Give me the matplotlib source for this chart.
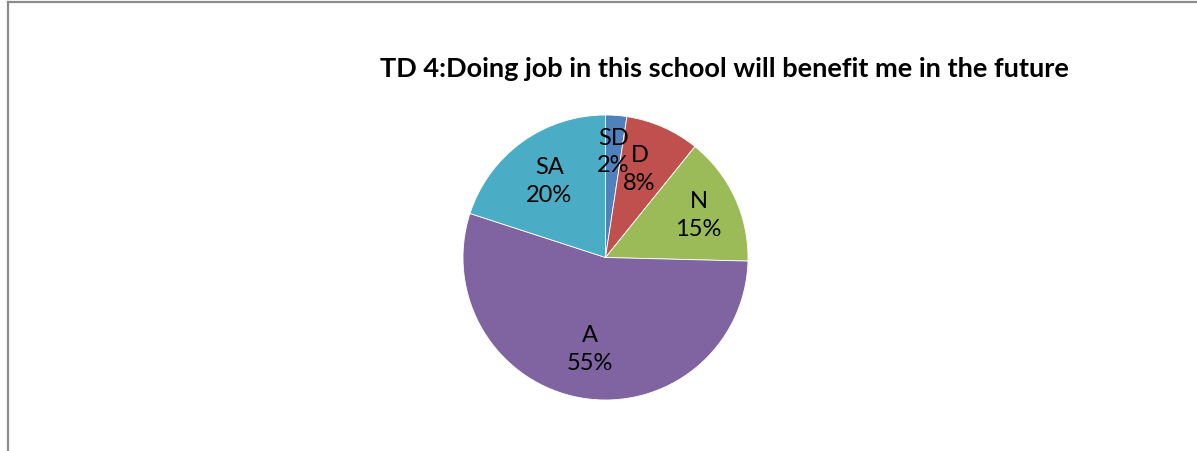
import numpy as np
import matplotlib
matplotlib.use("Agg")
import matplotlib.pyplot as plt
from matplotlib.lines import Line2D

title = "TD 4:Doing job in this school will benefit me in the future"
categories = ["SD", "D", "N", "A", "SA"]
values = [2.4, 8.4, 14.6, 54.6, 20.0]
pct_labels = ["2%", "8%", "15%", "55%", "20%"]
colors = ["#4F81BD", "#C0504D", "#9BBB59", "#8064A2", "#4BACC6"]
label_r = [0.75, 0.67, 0.72, 0.65, 0.67]
label_dang = [0, 3, 0, 0, 0]

plt.rcParams['font.family'] = ['Lato', 'DejaVu Sans']

W, H = 1197, 452
fig = plt.figure(figsize=(W / 100, H / 100), dpi=100)
fig.patch.set_facecolor("white")

# frame (top and left edges visible)
fig.add_artist(Line2D([7.5 / W, 7.5 / W], [0, 1 - 2.5 / H], transform=fig.transFigure,
                      color="#8c8c8c", lw=1.6))
fig.add_artist(Line2D([7.5 / W, 1], [1 - 2.5 / H, 1 - 2.5 / H], transform=fig.transFigure,
                      color="#8c8c8c", lw=1.6))

cx, cy, R = 605.5, 258.5, 142.5
ax = fig.add_axes([(cx - R) / W, (H - cy - R) / H, 2 * R / W, 2 * R / H])
wedges, _ = ax.pie(values, colors=colors, startangle=90, counterclock=False,
                   radius=1.0, wedgeprops=dict(edgecolor="white", linewidth=0.6))
ax.set_xlim(-1, 1)
ax.set_ylim(-1, 1)
ax.set_aspect("equal")
ax.axis("off")

total = sum(values)
cum = 0.0
for i, v in enumerate(values):
    mid = 90 - 360 * (cum + v / 2) / total + label_dang[i]
    cum += v
    x = label_r[i] * np.cos(np.radians(mid))
    y = label_r[i] * np.sin(np.radians(mid))
    ax.text(x, y, categories[i] + "\n" + pct_labels[i], ha="center", va="center",
            fontsize=17, linespacing=1.4, color="black")

fig.text(724 / W, 1 - 77 / H, title, ha="center", va="baseline",
         fontsize=19.5, fontweight="bold", color="black")

fig.savefig("out.png", dpi=100)
